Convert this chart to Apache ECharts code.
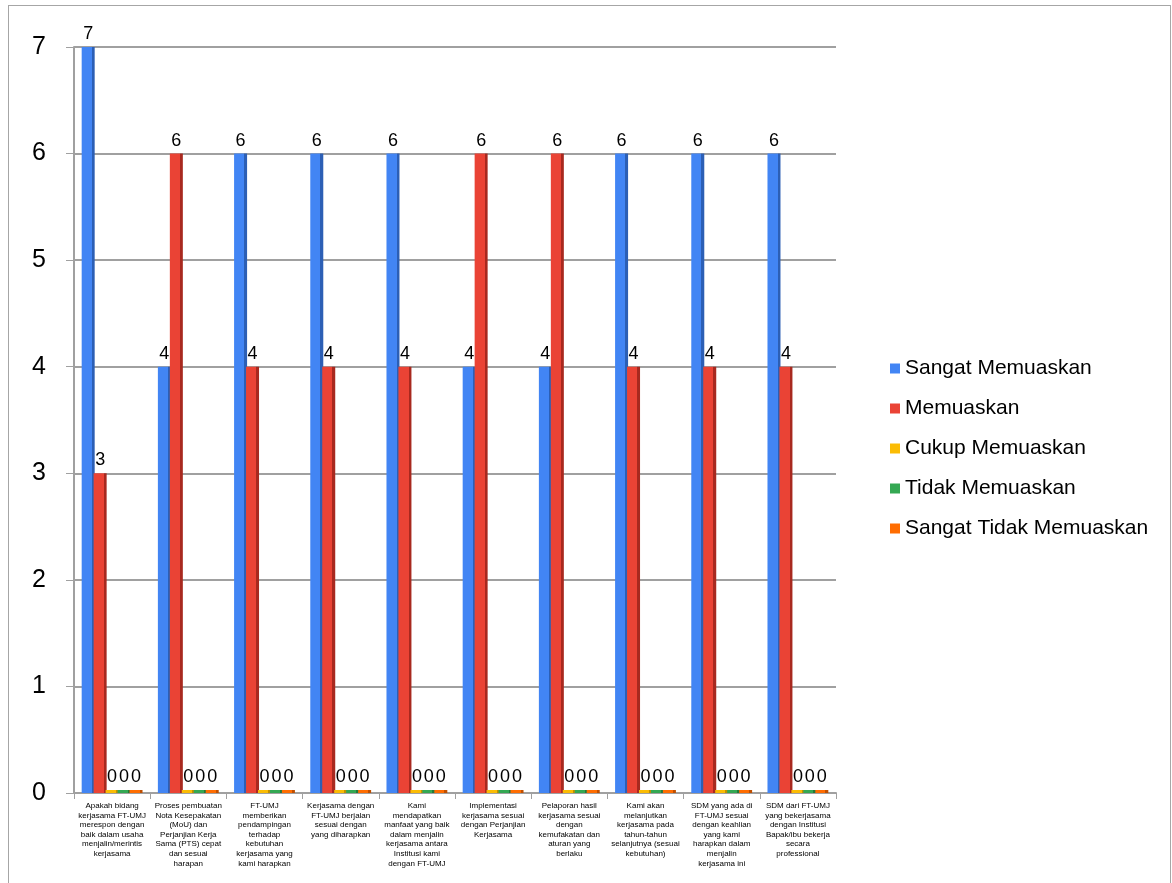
<!DOCTYPE html>
<html>
<head>
<meta charset="utf-8">
<script src="https://cdn.jsdelivr.net/npm/echarts@6/dist/echarts.min.js"></script>
<style>
  html, body { margin: 0; padding: 0; background: #fff; }
  #chart { width: 1172px; height: 883px; }
  #frame { position: absolute; left: 8px; top: 5px; width: 1161px; height: 890px; border: 1px solid #a6a6a6; pointer-events: none; }
</style>
</head>
<body>
<div id="chart"></div>
<div id="frame"></div>
<script>
const categories = [
  "Apakah bidang\nkerjasama FT-UMJ\nmerespon dengan\nbaik dalam usaha\nmenjalin/merintis\nkerjasama",
  "Proses pembuatan\nNota Kesepakatan\n(MoU) dan\nPerjanjian Kerja\nSama (PTS) cepat\ndan sesuai\nharapan",
  "FT-UMJ\nmemberikan\npendampingan\nterhadap\nkebutuhan\nkerjasama yang\nkami harapkan",
  "Kerjasama dengan\nFT-UMJ berjalan\nsesuai dengan\nyang diharapkan",
  "Kami\nmendapatkan\nmanfaat yang baik\ndalam menjalin\nkerjasama antara\nInstitusi kami\ndengan FT-UMJ",
  "Implementasi\nkerjasama sesuai\ndengan Perjanjian\nKerjasama",
  "Pelaporan hasil\nkerjasama sesuai\ndengan\nkemufakatan dan\naturan yang\nberlaku",
  "Kami akan\nmelanjutkan\nkerjasama pada\ntahun-tahun\nselanjutnya (sesuai\nkebutuhan)",
  "SDM yang ada di\nFT-UMJ sesuai\ndengan keahlian\nyang kami\nharapkan dalam\nmenjalin\nkerjasama ini",
  "SDM dari FT-UMJ\nyang bekerjasama\ndengan Institusi\nBapak/ibu bekerja\nsecara\nprofessional"
];
const seriesNames = ["Sangat Memuaskan", "Memuaskan", "Cukup Memuaskan", "Tidak Memuaskan", "Sangat Tidak Memuaskan"];
const sangatMemuaskan = [7, 4, 6, 6, 6, 4, 4, 6, 6, 6];
const memuaskan = [3, 6, 4, 4, 4, 6, 6, 4, 4, 4];
const cukupMemuaskan = [0, 0, 0, 0, 0, 0, 0, 0, 0, 0];
const tidakMemuaskan = [0, 0, 0, 0, 0, 0, 0, 0, 0, 0];
const sangatTidakMemuaskan = [0, 0, 0, 0, 0, 0, 0, 0, 0, 0];
const yTicks = [0, 1, 2, 3, 4, 5, 6, 7];

const colors = ["#4285F4", "#EA4335", "#FBBC04", "#34A853", "#FF6D01"];
const darks = ["#2c5fb5", "#a8291f", "#c08f00", "#23783a", "#c04f00"];
const dataSets = [sangatMemuaskan, memuaskan, cukupMemuaskan, tidakMemuaskan, sangatTidakMemuaskan];

function grad(i) {
  return new echarts.graphic.LinearGradient(0, 0, 1, 0, [
    { offset: 0, color: colors[i] },
    { offset: 0.78, color: colors[i] },
    { offset: 0.78, color: darks[i] },
    { offset: 1, color: darks[i] }
  ]);
}

const chart = echarts.init(document.getElementById('chart'));
chart.setOption({
  animation: false,
  textStyle: { fontFamily: 'Liberation Sans, Arial, sans-serif' },
  legend: {
    orient: 'vertical',
    left: 885,
    top: 353,
    icon: 'rect',
    itemWidth: 10,
    itemHeight: 10,
    itemGap: 19,
    textStyle: { fontSize: 21, color: '#000', fontFamily: 'Liberation Sans, Arial, sans-serif' },
    data: seriesNames.map((n, i) => ({ name: n, itemStyle: { color: colors[i] } }))
  },
  grid: { left: 74, right: 336, top: 47, bottom: 90 },
  xAxis: {
    type: 'category',
    data: categories,
    axisLine: { lineStyle: { color: '#a0a0a0', width: 2 } },
    axisTick: { show: true, length: 6, lineStyle: { color: '#a0a0a0' } },
    axisLabel: {
      interval: 0,
      fontSize: 8,
      lineHeight: 9.6,
      color: '#000',
      margin: 8,
      fontFamily: 'Liberation Sans, Arial, sans-serif'
    }
  },
  yAxis: {
    type: 'value',
    min: 0,
    max: 7,
    interval: 1,
    axisLine: { show: true, lineStyle: { color: '#a0a0a0', width: 2 } },
    axisTick: { show: true, length: 8, lineStyle: { color: '#a0a0a0' } },
    splitLine: { lineStyle: { color: '#a0a0a0', width: 2 } },
    axisLabel: {
      fontSize: 25,
      color: '#000',
      margin: 28,
      formatter: v => yTicks.includes(v) ? String(v) : ''
    }
  },
  series: dataSets.map((d, i) => ({
    name: seriesNames[i],
    type: 'bar',
    data: d,
    barWidth: 13,
    barGap: '-8%',
    barMinHeight: 3,
    itemStyle: { color: grad(i) },
    label: {
      show: true,
      position: 'top',
      distance: 4,
      fontSize: 18,
      color: '#000',
      fontFamily: 'Liberation Sans, Arial, sans-serif'
    }
  }))
});
</script>
</body>
</html>
